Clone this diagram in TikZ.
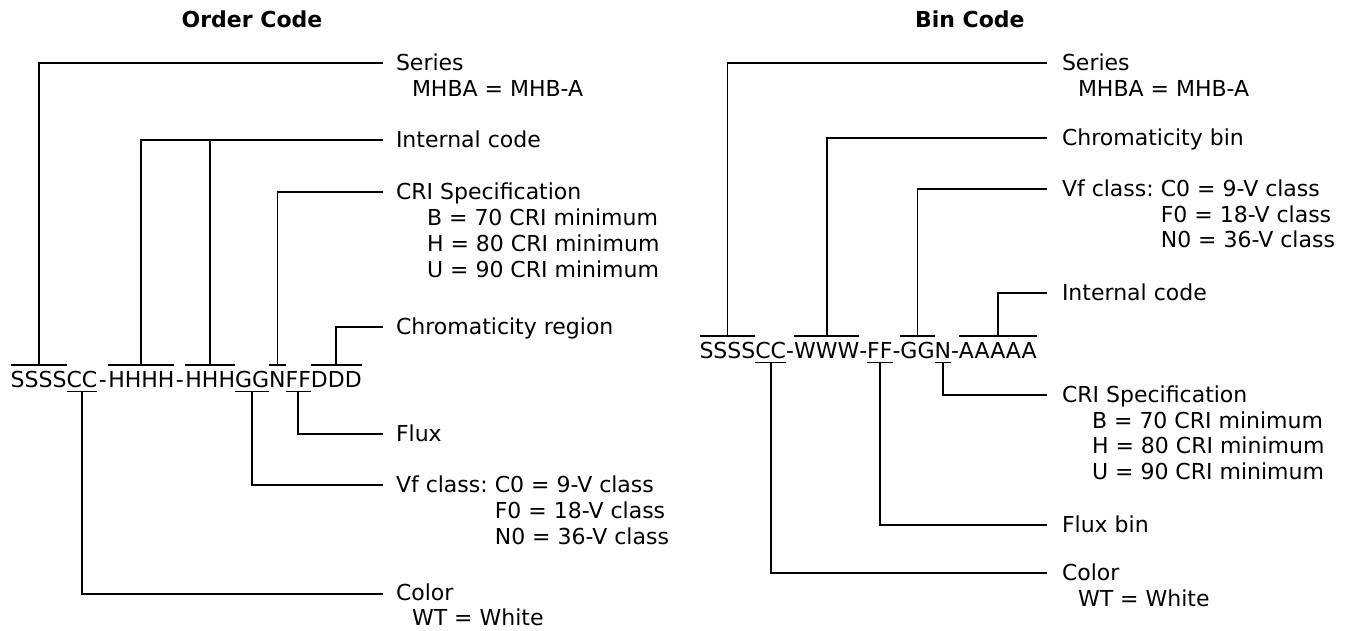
\documentclass[tikz,border=0pt]{standalone}
\usepackage{fontspec}
\setmainfont{DejaVu Sans}
\begin{document}
\begin{tikzpicture}[x=1pt,y=-1pt,
  every node/.style={inner sep=0pt,outer sep=0pt,font=\fontsize{22pt}{26pt}\selectfont},
  code/.style={text height=22pt,text depth=4.5pt,anchor=base west},
  hyph/.style={code,minimum width=11pt},
  lbl/.style={anchor=base west},
  ttl/.style={anchor=base west,font=\fontsize{22pt}{26pt}\selectfont\bfseries},
  wire/.style={line width=1.8pt}]
\useasboundingbox (0,0) rectangle (1345,630);

% ---------------- Order Code ----------------
\node[ttl] (t1) at (181.7,27) {Order Code};

\node[code] (a1) at (10.7,387) {SSSS};
\node[code] (a2) at (a1.base east) {CC};
\node[hyph] (a3) at (a2.base east) {-};
\node[code] (a4) at (a3.base east) {HHHH};
\node[hyph] (a5) at (a4.base east) {-};
\node[code] (a6) at (a5.base east) {HHH};
\node[code] (a7) at (a6.base east) {GG};
\node[code] (a8) at (a7.base east) {N};
\node[code] (a9) at (a8.base east) {FF};
\node[code] (a10) at (a9.base east) {DDD};
\foreach \n in {a1,a4,a6,a8,a10} \draw[wire] (\n.north west) -- (\n.north east);
\foreach \n in {a2,a7,a9} \draw[wire] (\n.south west) -- (\n.south east);

\node[lbl] (lS) at (396,70.2) {Series};
\node[lbl] (lS2) at ([xshift=16pt,yshift=-26pt]lS.base west) {MHBA = MHB-A};
\node[lbl] (lI) at (396,147.5) {Internal code};
\node[lbl] (lC) at (396,199.2) {CRI Specification};
\node[lbl] (lC2) at ([xshift=31pt,yshift=-26pt]lC.base west) {B = 70 CRI minimum};
\node[lbl] (lC3) at ([yshift=-26pt]lC2.base west) {H = 80 CRI minimum};
\node[lbl] (lC4) at ([yshift=-26pt]lC3.base west) {U = 90 CRI minimum};
\node[lbl] (lR) at (396,334.8) {Chromaticity region};
\node[lbl] (lF) at (396,441.5) {Flux};
\node[lbl] (lV) at (396,492.5) {Vf class:};
\node[lbl] (lV1) at ([xshift=7pt]lV.base east) {C0 = 9-V class};
\node[lbl] (lV2) at ([yshift=-26pt]lV1.base west) {F0 = 18-V class};
\node[lbl] (lV3) at ([yshift=-26pt]lV2.base west) {N0 = 36-V class};
\node[lbl] (lK) at (396,600.5) {Color};
\node[lbl] (lK2) at ([xshift=16pt,yshift=-24.5pt]lK.base west) {WT = White};

\coordinate (elS) at ([xshift=-13.5pt,yshift=7.5pt]lS.base west);
\coordinate (elI) at ([xshift=-13.5pt,yshift=7.5pt]lI.base west);
\coordinate (elC) at ([xshift=-13.5pt,yshift=7.5pt]lC.base west);
\coordinate (elR) at ([xshift=-13.5pt,yshift=7.5pt]lR.base west);
\coordinate (elF) at ([xshift=-13.5pt,yshift=7.5pt]lF.base west);
\coordinate (elV) at ([xshift=-13.5pt,yshift=7.5pt]lV.base west);
\coordinate (elK) at ([xshift=-13.5pt,yshift=6.2pt]lK.base west);

\draw[wire] (a1.north) |- (elS);
\draw[wire] (a4.north) |- (elI);
\draw[wire] (a6.north) -- (a6.north |- elI);
\draw[wire] (a8.north) |- (elC);
\draw[wire] (a10.north) |- (elR);
\draw[wire] (a9.south) |- (elF);
\draw[wire] (a7.south) |- (elV);
\draw[wire] (a2.south) |- (elK);

% ---------------- Bin Code ----------------
\node[ttl] (t2) at (915,27) {Bin Code};

\node[code] (b1) at (699.5,358) {SSSS};
\node[code] (b2) at (b1.base east) {CC};
\node[code] (b3) at (b2.base east) {-};
\node[code] (b4) at (b3.base east) {WWW};
\node[code] (b5) at (b4.base east) {-};
\node[code] (b6) at (b5.base east) {FF};
\node[code] (b7) at (b6.base east) {-};
\node[code] (b8) at (b7.base east) {GG};
\node[code] (b9) at (b8.base east) {N};
\node[code] (b10) at (b9.base east) {-};
\node[code] (b11) at (b10.base east) {AAAAA};
\foreach \n in {b1,b4,b8,b11} \draw[wire] (\n.north west) -- (\n.north east);
\foreach \n in {b2,b6,b9} \draw[wire] (\n.south west) -- (\n.south east);

\node[lbl] (mS) at (1062,70.2) {Series};
\node[lbl] (mS2) at ([xshift=16pt,yshift=-26pt]mS.base west) {MHBA = MHB-A};
\node[lbl] (mB) at (1062,145.2) {Chromaticity bin};
\node[lbl] (mV) at (1062,196.5) {Vf class:};
\node[lbl] (mV1) at ([xshift=7pt]mV.base east) {C0 = 9-V class};
\node[lbl] (mV2) at ([yshift=-25.5pt]mV1.base west) {F0 = 18-V class};
\node[lbl] (mV3) at ([yshift=-25.5pt]mV2.base west) {N0 = 36-V class};
\node[lbl] (mI) at (1062,300.2) {Internal code};
\node[lbl] (mC) at (1062,402.5) {CRI Specification};
\node[lbl] (mC2) at ([xshift=30pt,yshift=-25.5pt]mC.base west) {B = 70 CRI minimum};
\node[lbl] (mC3) at ([yshift=-25.5pt]mC2.base west) {H = 80 CRI minimum};
\node[lbl] (mC4) at ([yshift=-25.5pt]mC3.base west) {U = 90 CRI minimum};
\node[lbl] (mF) at (1062,532.5) {Flux bin};
\node[lbl] (mK) at (1062,580.8) {Color};
\node[lbl] (mK2) at ([xshift=16pt,yshift=-25.5pt]mK.base west) {WT = White};

\foreach \l in {mS,mB,mV,mI,mC,mF,mK}
  \coordinate (e\l) at ([xshift=-15pt,yshift=7.5pt]\l.base west);

\draw[wire] (b1.north) |- (emS);
\draw[wire] (b4.north) |- (emB);
\draw[wire] (b8.north) |- (emV);
\draw[wire] (b11.north) |- (emI);
\draw[wire] (b9.south) |- (emC);
\draw[wire] (b6.south) |- (emF);
\draw[wire] (b2.south) |- (emK);
\end{tikzpicture}
\end{document}
